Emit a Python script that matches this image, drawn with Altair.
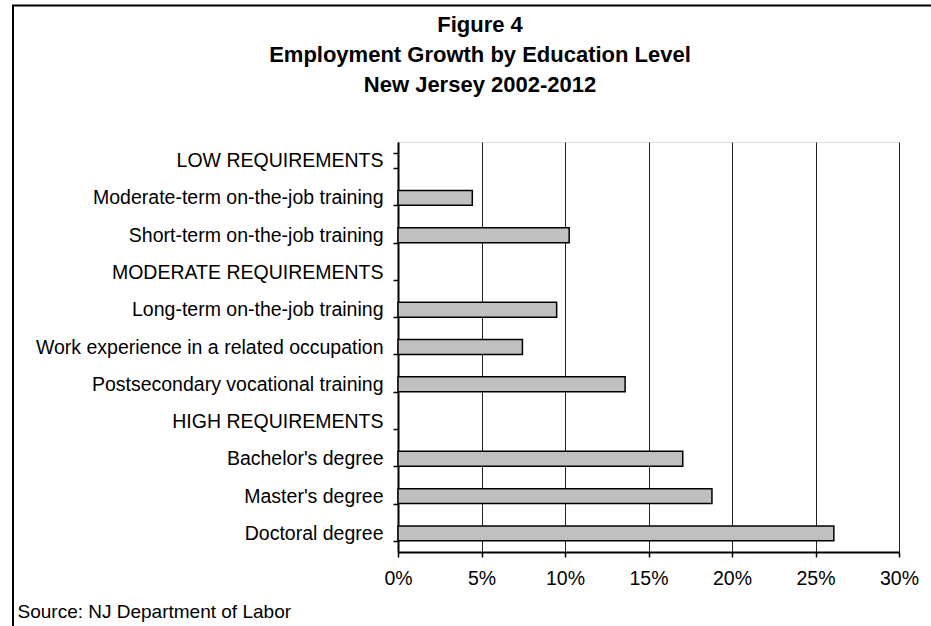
import altair as alt
import pandas as pd

categories = [
    "LOW REQUIREMENTS",
    "Moderate-term on-the-job training",
    "Short-term on-the-job training",
    "MODERATE REQUIREMENTS",
    "Long-term on-the-job training",
    "Work experience in a related occupation",
    "Postsecondary vocational training",
    "HIGH REQUIREMENTS",
    "Bachelor's degree",
    "Master's degree",
    "Doctoral degree",
]
growth_pct = [None, 4.45, 10.25, None, 9.5, 7.45, 13.6, None, 17.05, 18.8, 26.1]
tick_values = [0, 0.05, 0.10, 0.15, 0.20, 0.25, 0.30]
title_lines = ["Figure 4", "Employment Growth by Education Level", "New Jersey 2002-2012"]
source_text = "Source: NJ Department of Labor"

df = pd.DataFrame({
    "category": categories,
    "growth": [None if v is None else v / 100 for v in growth_pct],
})
bars_df = df.dropna().reset_index(drop=True)

FONT = "Liberation Sans"

bars = alt.Chart(bars_df).mark_bar(
    fill="#C0C0C0", stroke="black", strokeWidth=1.5
).encode(
    x=alt.X(
        "growth:Q",
        scale=alt.Scale(domain=[0, 0.30], nice=False, zero=True),
        axis=alt.Axis(
            values=tick_values, format=".0%", grid=True,
            gridColor="#222222", gridWidth=1,
            domainColor="black", domainWidth=2,
            tickColor="black", tickSize=5, tickWidth=1.5,
            labelFontSize=19.5, labelFont=FONT, labelColor="black",
            labelPadding=12, labelFlush=False,
            title=source_text, titleX=-381, titleY=65,
            titleAlign="left", titleBaseline="alphabetic",
            titleFontWeight="normal", titleFontSize=19, titleFont=FONT,
            titleColor="black",
        ),
    ),
    y=alt.Y(
        "category:N",
        scale=alt.Scale(domain=categories, paddingInner=0.6, paddingOuter=0.3),
        axis=alt.Axis(
            title=None, tickBand="extent",
            domainColor="black", domainWidth=2,
            tickColor="black", tickSize=5, tickWidth=1.5,
            labelFontSize=19.5, labelFont=FONT, labelColor="black",
            labelPadding=10, labelLimit=600,
        ),
    ),
)

frame = alt.Chart(alt.Data(values=[{}])).mark_rect(
    filled=False, color="black", strokeWidth=2
).encode(
    x=alt.value(-385), x2=alt.value(560),
    y=alt.value(-136.5), y2=alt.value(520),
)

chart = alt.layer(bars, frame).properties(
    width=501,
    height=410,
    autosize=alt.AutoSizeParams(type="none"),
    padding={"left": 398, "top": 142, "right": 32, "bottom": 74},
    title=alt.TitleParams(
        text=title_lines, font=FONT, fontSize=22, fontWeight="bold",
        color="black", lineHeight=30, anchor="middle", frame="group",
        dx=-168.5, dy=137.5, offset=45,
    ),
).configure_view(
    stroke="black", strokeWidth=1.5
).configure(background="white")

chart.save("out.html", embed_options={"renderer": "svg", "actions": False})
